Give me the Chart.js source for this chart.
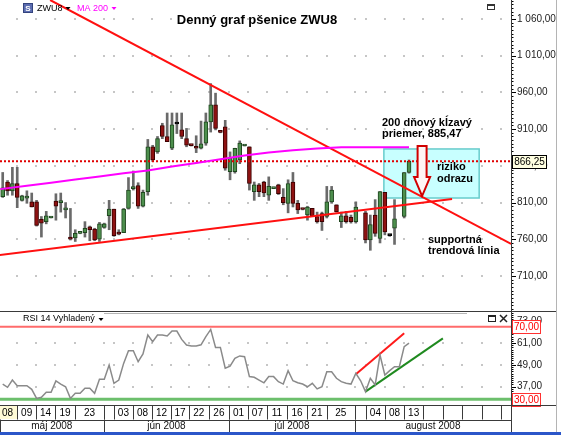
<!DOCTYPE html>
<html>
<head>
<meta charset="utf-8">
<script src="https://cdn.jsdelivr.net/npm/chart.js@4.4.0/dist/chart.umd.min.js"></script>
<style>
  html, body { margin: 0; padding: 0; background: #fff; }
  #wrap { width: 561px; height: 435px; }
</style>
</head>
<body>
<div id="wrap"><canvas id="grafico" width="561" height="435"></canvas></div>
<script>
// ------------------------------------DATI------------------------------------
// candele giornaliere ZWU8 (indice = giorno di contrattazione), null = nessuna candela
const opens  = [818,838,826,836,813,816,811,811,787,784, 789,812,810,800,763,762,768,769,777,774,
                760,776,792,801,768,769,802,829,833,805, 825,886,879,915,900,884,917,909,897,888,
                885,884,891,920,943,906,913,852,852,868, 887,886,825,834,838,820,829,834,817,809,
                838,809,801,793,802,791,795,791,811,807, 784,792,790,784,null,796,759,793,761,824,
                765,775,null,791,851];
const highs  = [851,840,858,858,820,826,823,813,791,798, 790,822,823,810,802,773,768.5,784,778,775,
                783,782,813,801,773,802,844,853,837,827, 896,888,900,918,932,932,932,932,911,888.5,
                901,921,932,972,959,906.5,922,879,884,894, 888,886,838,836,839,845,830,835,829,841,
                851,813,801.5,805,802,797,797,832,832,807, 797,798,793,811,null,798,793,814,825,824,
                766,814,null,851,868];
const lows   = [817,820,820,803,812,809,804,778,763,781, 789,786,797,789,759,757,767.5,763,758,758,
                757,775,773,764,766,769,801,827,802,804, 820,866,877,897,893,882,904,897,886,887,
                878,883,888,906,909,905,854,841,850,863, 887,827,813,818,818,813,829,821,807,796,
                804,795,800,786,791,782,772,789,809,797, 776,782,782,782,null,755,745,764,755,766,
                764,753,null,789,850];
const closes = [830,826,836,817,819,817,804,779,782,792, 790,805,811,801,760,768,768.5,775,773,759,
                781,781,801,765,767,801,827,830,805,824, 886,868,897,900,893,916,917,900,888,887.5,
                884,890,920,943,911,905.5,857,871,884,891, 887.5,836,834,825,823,832,829.5,822,810,836,
                809,800,800.5,804,792,784,784,811,827,797.5, 792,784,784,804,null,759,780,768,825,770,
                765,788,null,851,866.25];

// RSI 14 vyhladený, stesso indice delle candele
const rsi = [38.4,36.6,40.6,37.5,37.5,37.5,35.5,30.5,31.1,33.9, 33.9,40.1,38.4,36.9,30.5,33.3,33.3,36.1,36.1,33.3,
             41.0,41.0,48.9,38.8,40.6,49.8,56.8,56.8,50.7,55.0, 65.4,61.7,65.4,65.4,64.9,67.6,67.6,63.0,59.9,59.4,
             59.4,60.0,64.5,68.5,58.6,58.6,47.1,48.3,52.6,53.9, 53.5,42.5,42.1,40.6,39.1,42.5,42.5,39.7,38.4,45.8,
             40.2,39.1,38.4,36.9,38.8,35.7,36.9,45.2,45.2,41.6, 39.7,38.8,38.4,44.3,40.2,34.2,41.6,37.9,54.4,43.4,
             45.8,48.0,48.0,59.0,60.9];

// MA 200
const maX = [-0.5, 5, 10, 15, 20, 25, 30, 35, 40, 45, 50, 55, 60, 65, 70, 75, 80, 84];
const maY = [828.3, 832.8, 837.0, 841.3, 845.6, 849.9, 853.8, 859.0, 864.0, 869.0, 874.0, 878.3, 881.2, 883.7, 885.2, 885.4, 885.5, 885.47];

// trendové línie (indice, cena)
const resistX  = [9.8, 105.1];     const resistY  = [1085.9, 753.7];
const supportX = [-0.6, 92.9];     const supportY = [738.6, 814.9];
const rsiUpX   = [73.0, 83.0];     const rsiUpY   = [43.8, 66.4];
const rsiLowX  = [75.0, 91.0];     const rsiLowY  = [34.2, 63.6];

// zona "riziko odrazu" e freccia
const boxX = [78.8, 98.5];         const boxY = [816.2, 883.0];
const arrowTip = [86.7, 818.9];    const arrowTop = 887;
const maLast = 885.47;

// assi
const priceTicks = [710, 760, 810, 860, 910, 960, 1010, 1060];
const rsiTicks   = [37, 49, 61, 73];
const rsiLevels  = [70, 30];
const dayPos    = [-1.0, 3.0, 6.9, 10.8, 15.0, 20.9, 23.0, 26.9, 30.9, 34.8, 38.5, 42.6, 46.8, 50.7,
                   54.6, 58.8, 62.9, 67.0, 72.8, 75.1, 79.0, 83.0, 86.9, 91.0, 95.0, 99.1, 103.0];
const dayLabels = ['08','09','14','19','23','','03','08','12','17','22','26','01','07',
                   '11','16','21','25','','04','08','13','','','','',''];
const monthPos    = [-0.6, 20.9, 46.8, 72.8];
const monthLabels = ['máj 2008', 'jún 2008', 'júl 2008', 'august 2008'];

const X_MIN = -0.56, X_MAX = 105.08;
const FONT = '"Liberation Sans", Arial, sans-serif';

// ------------------------------------COSTRUZIONE DATASET------------------------------------
const candele = opens.map((o, i) => i).filter(i => opens[i] !== null);
const wickData = candele.map(i => ({x: i, y: [lows[i], highs[i]]}));
const bodyData = candele.map(i => ({x: i, y: [opens[i], closes[i]]}));
const bodyFill = candele.map(i => closes[i] > opens[i] ? '#4d8f4d' : (closes[i] < opens[i] ? '#8e1212' : '#111'));
const bodyLine = candele.map(i => closes[i] > opens[i] ? '#1f451f' : (closes[i] < opens[i] ? '#3c0000' : '#000'));
const pts = (xs, ys) => xs.map((v, k) => ({x: v, y: ys[k]}));

function fmt(v) {
  const s = Number(v).toFixed(2).split('.');
  return s[0].replace(/\B(?=(\d{3})+(?!\d))/g, ' ') + ',' + s[1];
}

function linea(data, color, width, axis, dash) {
  return {type: 'line', data: data, yAxisID: axis, borderColor: color, borderWidth: width,
          borderDash: dash || [], pointRadius: 0, fill: false, order: 0};
}

// ------------------------------------PLUGIN DISEGNO------------------------------------
const disegno = {
  id: 'disegno',
  beforeDatasetsDraw(chart) {
    const {ctx, chartArea: a} = chart;
    const {x, y, yr} = chart.scales;
    ctx.save();
    // punti griglia
    ctx.fillStyle = '#c6c6c6';
    dayPos.forEach(d => {
      const px = Math.round(x.getPixelForValue(d));
      if (px <= a.left + 2 || px >= a.right - 2) return;
      priceTicks.forEach(t => ctx.fillRect(px - 1, Math.round(y.getPixelForValue(t)) - 1, 2, 2));
      rsiTicks.forEach(t => { if (t < 70) ctx.fillRect(px - 1, Math.round(yr.getPixelForValue(t)) - 1, 2, 2); });
    });
    // zona riziko odrazu
    const x0 = x.getPixelForValue(boxX[0]), x1 = x.getPixelForValue(boxX[1]);
    const y0 = y.getPixelForValue(boxY[1]), y1 = y.getPixelForValue(boxY[0]);
    ctx.fillStyle = '#c8ffff';
    ctx.fillRect(x0, y0, x1 - x0, y1 - y0);
    ctx.strokeStyle = '#66cccc';
    ctx.lineWidth = 1.5;
    ctx.strokeRect(x0, y0, x1 - x0, y1 - y0);
    ctx.restore();
  },
  afterDraw(chart) {
    const {ctx, chartArea: a} = chart;
    const {x, y, yr} = chart.scales;
    ctx.save();

    // freccia
    const tx = x.getPixelForValue(arrowTip[0]), ty = y.getPixelForValue(arrowTip[1]);
    const topY = y.getPixelForValue(arrowTop);
    ctx.beginPath();
    ctx.moveTo(tx, ty);
    ctx.lineTo(tx - 8, ty - 19);
    ctx.lineTo(tx - 4.5, ty - 19);
    ctx.lineTo(tx - 4.5, topY);
    ctx.lineTo(tx + 4.5, topY);
    ctx.lineTo(tx + 4.5, ty - 19);
    ctx.lineTo(tx + 8, ty - 19);
    ctx.closePath();
    ctx.fillStyle = '#fff4f4';
    ctx.fill();
    ctx.strokeStyle = '#d00000';
    ctx.lineWidth = 2;
    ctx.stroke();

    // testi
    ctx.fillStyle = '#000';
    ctx.textBaseline = 'middle';
    ctx.textAlign = 'center';
    ctx.font = 'bold 13px ' + FONT;
    ctx.fillText('Denný graf pšenice ZWU8', 257, 20);
    ctx.textAlign = 'left';
    ctx.font = 'bold 11px ' + FONT;
    ctx.fillText('200 dňový kĺzavý', 382, 122.5);
    ctx.fillText('priemer, ' + fmt(maLast), 382, 133.5);
    ctx.fillText('riziko', 437, 167);
    ctx.fillText('odrazu', 437, 179);
    ctx.fillText('supportná', 428, 239.5);
    ctx.fillText('trendová línia', 428, 250.5);

    // legenda in alto
    ctx.fillStyle = '#5b6cb0';
    ctx.fillRect(23, 3, 10, 10);
    ctx.strokeStyle = '#34447e';
    ctx.lineWidth = 1;
    ctx.strokeRect(23.5, 3.5, 9, 9);
    ctx.fillStyle = '#fff';
    ctx.font = 'bold 8px ' + FONT;
    ctx.textAlign = 'center';
    ctx.fillText('S', 28, 8.5);
    ctx.textAlign = 'left';
    ctx.font = '9px ' + FONT;
    ctx.fillStyle = '#000';
    ctx.fillText('ZWU8', 37, 8.5);
    tri(ctx, 68, 7, '#000');
    ctx.fillStyle = '#ff00ff';
    ctx.fillText('MA 200', 77, 8.5);
    tri(ctx, 114, 7, '#ff00ff');
    ctx.strokeStyle = '#333';
    ctx.strokeRect(487.5, 4.5, 7, 5);
    ctx.fillStyle = '#333';
    ctx.fillRect(487, 4, 8, 2);

    // separatori pannelli
    ctx.strokeStyle = '#3a3a3a';
    ctx.lineWidth = 1;
    hline(ctx, 0, 556, 311.5);
    ctx.strokeStyle = '#b4b4b4';
    hline(ctx, 104, 467, 313.5);
    vline(ctx, 556.5, 0, 432);

    // intestazione RSI
    ctx.fillStyle = '#000';
    ctx.font = '9px ' + FONT;
    ctx.fillText('RSI 14 Vyhladený', 23, 319);
    tri(ctx, 101, 318, '#000');
    ctx.strokeStyle = '#222';
    ctx.strokeRect(488.5, 315.5, 7, 6);
    ctx.fillStyle = '#222';
    ctx.fillRect(488, 315, 8, 2);
    ctx.lineWidth = 1.5;
    ctx.beginPath();
    ctx.moveTo(500, 315); ctx.lineTo(507, 322);
    ctx.moveTo(507, 315); ctx.lineTo(500, 322);
    ctx.stroke();

    // tacche asse prezzo
    ctx.strokeStyle = '#000';
    ctx.lineWidth = 1;
    ctx.beginPath();
    for (let v = 665; v < 1086; v += 5) {
      const py = Math.round(y.getPixelForValue(v)) + 0.5;
      const len = priceTicks.includes(v) ? 5 : 2.5;
      ctx.moveTo(a.right, py); ctx.lineTo(a.right + len, py);
    }
    for (let v = 27.4; v < 78.6; v += 1.2) {
      const py = Math.round(yr.getPixelForValue(v)) + 0.5;
      ctx.moveTo(a.right, py); ctx.lineTo(a.right + 2.5, py);
    }
    rsiTicks.forEach(v => {
      const py = Math.round(yr.getPixelForValue(v)) + 0.5;
      ctx.moveTo(a.right, py); ctx.lineTo(a.right + 5, py);
    });
    ctx.stroke();

    // etichette valore
    etichetta(ctx, fmt(closes[closes.length - 1]), 512.5, y.getPixelForValue(closes[closes.length - 1]), 34, '#ffffe1', '#000', '#000');
    etichetta(ctx, fmt(rsiLevels[0]), 512.5, yr.getPixelForValue(rsiLevels[0]), 28, '#fff', '#ff3030', '#ff0000');
    etichetta(ctx, fmt(rsiLevels[1]), 512.5, yr.getPixelForValue(rsiLevels[1]), 28, '#fff', '#ff3030', '#ff0000');

    // asse date
    const top = a.bottom, mid = a.bottom + 14.5, bot = a.bottom + 27;
    const xr = a.right;
    ctx.fillStyle = '#fffbd6';
    ctx.fillRect(0, top + 1, x.getPixelForValue(dayPos[1]), 13);
    ctx.strokeStyle = '#3a3a3a';
    ctx.lineWidth = 1;
    hline(ctx, 0, 556, Math.round(top) + 0.5);
    hline(ctx, 0, xr, Math.round(mid) + 0.5);
    ctx.font = '10px ' + FONT;
    ctx.fillStyle = '#000';
    ctx.textAlign = 'center';
    dayPos.forEach((d, k) => {
      const p0 = x.getPixelForValue(d);
      const p1 = k + 1 < dayPos.length ? x.getPixelForValue(dayPos[k + 1]) : xr;
      vline(ctx, Math.round(p0) + 0.5, top, mid);
      if (dayLabels[k]) ctx.fillText(dayLabels[k], (p0 + p1) / 2, top + 8);
    });
    monthPos.forEach((d, k) => {
      const p0 = x.getPixelForValue(d);
      const p1 = k + 1 < monthPos.length ? x.getPixelForValue(monthPos[k + 1]) : xr;
      vline(ctx, Math.round(p0) + 0.5, mid, bot);
      ctx.fillStyle = '#111';
      ctx.fillText(monthLabels[k], (p0 + p1) / 2, mid + 7);
    });
    vline(ctx, Math.round(xr) + 0.5, 0, bot);
    ctx.fillStyle = '#2b56c9';
    ctx.fillRect(0, bot, 561, 435 - bot);
    ctx.restore();
  }
};

function hline(ctx, x0, x1, yy) { ctx.beginPath(); ctx.moveTo(x0, yy); ctx.lineTo(x1, yy); ctx.stroke(); }
function vline(ctx, xx, y0, y1) { ctx.beginPath(); ctx.moveTo(xx, y0); ctx.lineTo(xx, y1); ctx.stroke(); }
function tri(ctx, cx, cy, col) {
  ctx.fillStyle = col;
  ctx.beginPath(); ctx.moveTo(cx - 2.5, cy); ctx.lineTo(cx + 2.5, cy); ctx.lineTo(cx, cy + 3); ctx.closePath(); ctx.fill();
}
function etichetta(ctx, txt, x0, cy, w, bg, bordo, col) {
  const t = Math.round(cy - 6.5) + 0.5;
  ctx.fillStyle = bg;
  ctx.fillRect(x0, t, w, 13);
  ctx.strokeStyle = bordo;
  ctx.lineWidth = 1;
  ctx.strokeRect(x0, t, w, 13);
  ctx.fillStyle = col;
  ctx.font = '10px ' + FONT;
  ctx.textAlign = 'center';
  ctx.textBaseline = 'middle';
  ctx.fillText(txt, x0 + w / 2, t + 7);
}

// ------------------------------------GRAFICO------------------------------------
const asseY = (min, max, weight, ticks) => ({
  type: 'linear', position: 'right', stack: 'pannelli', stackWeight: weight,
  min: min, max: max,
  grid: {display: false, drawTicks: false},
  border: {display: true, color: '#000', width: 1},
  ticks: {font: {size: 10, family: FONT}, color: '#222', padding: 6, autoSkip: false,
          callback: v => fmt(v)},
  afterBuildTicks: s => { s.ticks = ticks.map(v => ({value: v})); },
  afterFit: s => { s.width = 50; s.paddingTop = 0; s.paddingBottom = 0; }
});

new Chart(document.getElementById('grafico'), {
  type: 'bar',
  data: {
    datasets: [
      linea(pts(maX, maY), '#ff00ff', 2, 'y'),
      linea(pts(resistX, resistY), '#ff1010', 2, 'y'),
      linea(pts(supportX, supportY), '#ff1010', 2, 'y'),
      linea(pts([X_MIN, X_MAX], [closes[closes.length - 1], closes[closes.length - 1]]), '#e00000', 2, 'y', [2, 2]),
      linea(rsi.map((v, i) => ({x: i, y: v})), '#8a8a8a', 1.5, 'yr'),
      linea(pts([X_MIN, X_MAX], [rsiLevels[0], rsiLevels[0]]), '#ff6b6b', 2, 'yr'),
      linea(pts([X_MIN, X_MAX], [rsiLevels[1], rsiLevels[1]]), '#6cbf6c', 3, 'yr'),
      linea(pts(rsiUpX, rsiUpY), '#ff1a1a', 2, 'yr'),
      linea(pts(rsiLowX, rsiLowY), '#1f8a1f', 2, 'yr'),
      {type: 'bar', data: wickData, yAxisID: 'y', backgroundColor: '#6a6a6a', borderWidth: 0,
       barThickness: 2, grouped: false, order: 2},
      {type: 'bar', data: bodyData, yAxisID: 'y', backgroundColor: bodyFill, borderColor: bodyLine,
       borderWidth: 1, borderSkipped: false, barThickness: 4, minBarLength: 2, grouped: false, order: 1}
    ]
  },
  options: {
    responsive: false,
    animation: false,
    layout: {padding: {left: 0, right: 0, top: 0, bottom: 30}},
    plugins: {legend: {display: false}, tooltip: {enabled: false}},
    scales: {
      x: {type: 'linear', min: X_MIN, max: X_MAX, display: false, offset: false},
      y: asseY(662.3, 1085.9, 311, priceTicks),
      yr: asseY(26.86, 78.65, 94, rsiTicks)
    }
  },
  plugins: [disegno]
});
</script>
</body>
</html>
